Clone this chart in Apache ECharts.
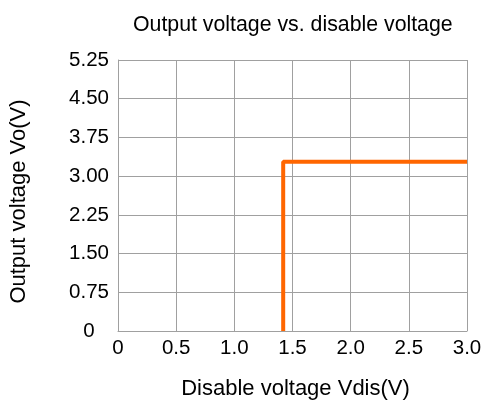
<!DOCTYPE html>
<html>
<head>
<meta charset="utf-8">
<script src="https://cdn.jsdelivr.net/npm/echarts@6/dist/echarts.min.js"></script>
<style>html,body{margin:0;padding:0;background:#fff}#c{width:486px;height:405px}</style>
</head>
<body>
<div id="c"></div>
<script>
const xValues = [1.42, 1.42, 3.0];
const yValues = [0, 3.28, 3.28];
const xTicks = [0, 0.5, 1.0, 1.5, 2.0, 2.5, 3.0];
const yTicks = [0, 0.75, 1.5, 2.25, 3.0, 3.75, 4.5, 5.25];

const FONT = '"Liberation Sans", Arial, sans-serif';
const chart = echarts.init(document.getElementById('c'));
chart.setOption({
  animation: false,
  backgroundColor: '#fff',
  title: {
    text: 'Output voltage vs. disable voltage',
    left: 128, top: 10,
    textStyle: {fontFamily: FONT, fontSize: 21.3, fontWeight: 'normal', color: '#000'}
  },
  grid: {left: 118, right: 19, top: 60, bottom: 74},
  xAxis: {
    type: 'value', min: xTicks[0], max: xTicks[xTicks.length - 1], interval: 0.5,
    name: 'Disable voltage Vdis(V)', nameLocation: 'middle', nameGap: 47,
    nameTextStyle: {fontFamily: FONT, fontSize: 22, color: '#000', padding: [0, 0, 0, 6]},
    axisLine: {lineStyle: {color: '#a0a0a0', width: 1}},
    axisTick: {show: false},
    splitLine: {show: true, lineStyle: {color: '#a0a0a0', width: 1}},
    axisLabel: {fontFamily: FONT, fontSize: 20.5, color: '#000', margin: 7,
      formatter: v => v === 0 ? '0' : v.toFixed(1)}
  },
  yAxis: {
    type: 'value', min: yTicks[0], max: yTicks[yTicks.length - 1], interval: 0.75,
    name: 'Output voltage Vo(V)', nameLocation: 'middle', nameGap: 88, nameRotate: 90,
    nameTextStyle: {fontFamily: FONT, fontSize: 22, color: '#000', padding: [0, 12, 0, 0]},
    axisLine: {show: true, lineStyle: {color: '#a0a0a0', width: 1}},
    axisTick: {show: false},
    splitLine: {show: true, lineStyle: {color: '#a0a0a0', width: 1}},
    axisLabel: {fontFamily: FONT, fontSize: 20.5, color: '#000', margin: 29, align: 'center',
      formatter: v => v === 0 ? '0' : v.toFixed(2)}
  },
  series: [{
    type: 'line',
    data: xValues.map((x, i) => [x, yValues[i]]),
    showSymbol: false,
    lineStyle: {color: '#ff6600', width: 4},
    itemStyle: {color: '#ff6600'}
  }]
});
</script>
</body>
</html>
